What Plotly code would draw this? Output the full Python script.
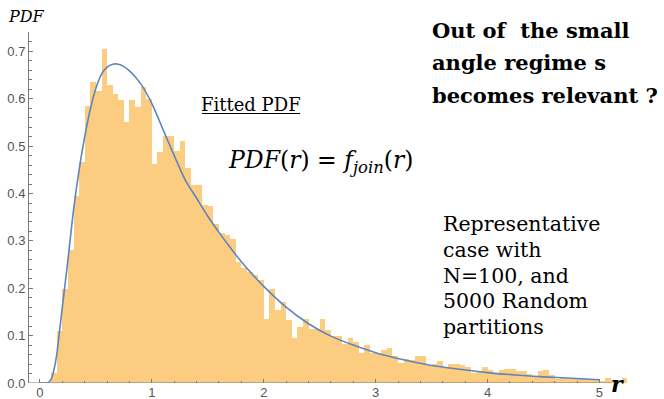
import numpy as np
import plotly.graph_objects as go

# Histogram of r (bin width 0.05, normalised to a density)
bin_width = 0.05
density = [
    0.0, 0.0, 0.022, 0.11, 0.199, 0.28, 0.395, 0.466, 0.584, 0.635,
    0.617, 0.706, 0.629, 0.61, 0.597, 0.55, 0.597, 0.583, 0.624, 0.599,
    0.463, 0.488, 0.521, 0.521, 0.49, 0.51, 0.453, 0.418, 0.418, 0.375,
    0.373, 0.335, 0.316, 0.313, 0.303, 0.256, 0.243, 0.235, 0.227, 0.218,
    0.136, 0.199, 0.154, 0.172, 0.134, 0.096, 0.118, 0.136, 0.115, 0.115,
    0.136, 0.112, 0.1, 0.099, 0.083, 0.094, 0.087, 0.063, 0.081, 0.064,
    0.063, 0.07, 0.073, 0.058, 0.042, 0.05, 0.049, 0.057, 0.058, 0.038,
    0.040, 0.046, 0.034, 0.041, 0.040, 0.039, 0.034, 0.021, 0.023, 0.034,
    0.027, 0.021, 0.027, 0.030, 0.030, 0.025, 0.025, 0.018, 0.014, 0.025,
    0.027, 0.016, 0.009, 0.011, 0.009, 0.011, 0.011, 0.009, 0.009, 0.007,
    0.004, 0.011, 0.006, 0.004, 0.011,
]
bin_left = np.round(np.arange(len(density)) * bin_width, 2)
bin_center = bin_left + bin_width / 2

# Fitted PDF sampled along r
fit_r = [0.0, 0.05, 0.08, 0.1, 0.125, 0.15, 0.175, 0.2, 0.25, 0.3, 0.35, 0.4,
         0.45, 0.5, 0.55, 0.6, 0.65, 0.7, 0.75, 0.8, 0.9, 1.0, 1.1, 1.2, 1.3,
         1.4, 1.5, 1.6, 1.7, 1.8, 1.9, 2.0, 2.2, 2.4, 2.6, 2.8, 3.0, 3.25, 3.5,
         3.75, 4.0, 4.25, 4.5, 4.75, 5.0]
fit_pdf = [0.0, 0.0, 0.002, 0.008, 0.028, 0.06, 0.11, 0.16, 0.26, 0.365, 0.45,
           0.52, 0.578, 0.622, 0.652, 0.667, 0.673, 0.673, 0.668, 0.659, 0.632,
           0.59, 0.535, 0.48, 0.428, 0.39, 0.352, 0.318, 0.286, 0.256, 0.229,
           0.204, 0.16, 0.125, 0.099, 0.08, 0.064, 0.049, 0.037, 0.029, 0.022,
           0.017, 0.013, 0.01, 0.007]

x_ticks = [0, 1, 2, 3, 4, 5]
y_ticks = [0.0, 0.1, 0.2, 0.3, 0.4, 0.5, 0.6, 0.7]

W, H = 664, 399
L, R, T, B = 29, 31, 32, 16
X_RANGE = [-0.098, 5.30]
Y_RANGE = [0.0, 0.741]


def px(x, y):
    """Pixel position on the page -> paper coordinates."""
    return (x - L) / (W - L - R), (H - B - y) / (H - T - B)


fig = go.Figure()
fig.add_trace(go.Bar(
    x=bin_center, y=density, width=bin_width,
    marker=dict(color="#fccd80", line=dict(width=0)),
    hoverinfo="x+y",
))
fig.add_trace(go.Scatter(
    x=fit_r, y=fit_pdf, mode="lines",
    line=dict(color="#5d85c0", width=1.6, shape="spline", smoothing=0.8),
))

axis_grey = "#7a7a7a"
tick_font = dict(family="Liberation Sans", size=13, color="#555555")

fig.update_layout(
    width=W, height=H,
    margin=dict(l=L, r=R, t=T, b=B, autoexpand=False),
    paper_bgcolor="white", plot_bgcolor="white",
    showlegend=False, bargap=0,
    xaxis=dict(
        range=X_RANGE, tickvals=x_ticks, ticks="inside", ticklen=4,
        tickcolor=axis_grey, showline=False, showgrid=False, zeroline=False,
        tickfont=tick_font, automargin=False,
        minor=dict(dtick=0.2, ticks="inside", ticklen=2.5, tickcolor=axis_grey),
    ),
    yaxis=dict(
        range=Y_RANGE, tickvals=y_ticks, tickformat=".1f", ticks="inside",
        ticklen=4, tickcolor=axis_grey, showline=True, linecolor=axis_grey,
        linewidth=1, showgrid=False, zeroline=False, tickfont=tick_font,
        automargin=False,
        minor=dict(dtick=0.02, ticks="inside", ticklen=2.5, tickcolor=axis_grey),
    ),
)

# horizontal axis line stops just past r = 5
fig.add_shape(type="line", xref="x", yref="y", x0=X_RANGE[0], x1=5.11,
              y0=0, y1=0, line=dict(color=axis_grey, width=1))

SERIF = "DejaVu Serif, serif"


def label(text, x, y, size, xanchor="left"):
    xp, yp = px(x, y)
    fig.add_annotation(text=text, x=xp, y=yp, xref="paper", yref="paper",
                       xanchor=xanchor, yanchor="middle", showarrow=False,
                       font=dict(family=SERIF, size=size, color="black"))


label("<i>PDF</i>", 6, 17, 16)
label("<b><i>r</i></b>", 609, 384, 22)
label("Fitted PDF", 199, 104, 18)
x0, y0 = px(202, 113.5)
x1, _ = px(300, 113.5)
fig.add_shape(type="line", xref="paper", yref="paper", x0=x0, x1=x1,
              y0=y0, y1=y0, line=dict(color="black", width=1))
label("<i>PDF</i>(<i>r</i>) = <i>f</i><sub><i>join</i></sub>(<i>r</i>)",
      226, 161, 23.5)

for i, line in enumerate(["Out of  the small", "angle regime s",
                          "becomes relevant ?"]):
    label("<b>" + line + "</b>", 430, 30 + 32.5 * i, 21)

for i, line in enumerate(["Representative", "case with", "N=100, and",
                          "5000 Random", "partitions"]):
    label(line, 441, 224 + 25.8 * i, 20.5)

fig.write_html("out.html")
